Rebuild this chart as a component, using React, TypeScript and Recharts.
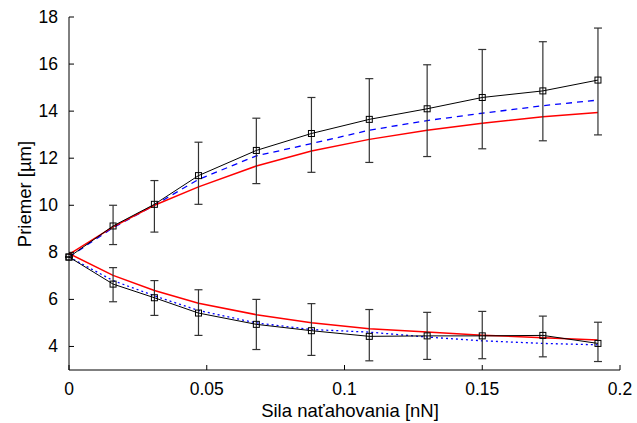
import { ComposedChart, Line, XAxis, YAxis, ErrorBar } from "recharts";

// force values [nN]
const force = [0, 0.016, 0.031, 0.047, 0.068, 0.088, 0.109, 0.13, 0.15, 0.172, 0.192];

// upper branch (measured, model dashed, model red)
const upperMeasured = [7.8, 9.12, 10.04, 11.26, 12.33, 13.05, 13.65, 14.1, 14.58, 14.86, 15.32];
const upperBarTop = [7.8, 10.0, 11.05, 12.68, 13.7, 14.58, 15.38, 15.97, 16.62, 16.95, 17.53];
const upperBarBottom = [7.8, 8.33, 8.86, 10.04, 10.92, 11.4, 11.82, 12.07, 12.4, 12.74, 12.99];
const upperBlue = [7.8, 9.05, 10.0, 11.1, 12.1, 12.62, 13.19, 13.6, 13.91, 14.23, 14.47];
const upperRed = [7.91, 9.08, 10.0, 10.78, 11.67, 12.31, 12.8, 13.19, 13.49, 13.76, 13.94];

// lower branch
const lowerMeasured = [7.8, 6.65, 6.07, 5.42, 4.94, 4.67, 4.43, 4.45, 4.45, 4.47, 4.13];
const lowerBarTop = [7.8, 7.35, 6.8, 6.41, 6.0, 5.82, 5.57, 5.45, 5.49, 5.29, 5.03];
const lowerBarBottom = [7.8, 5.9, 5.32, 4.47, 3.87, 3.62, 3.39, 3.45, 3.48, 3.56, 3.36];
const lowerBlue = [7.8, 6.8, 6.15, 5.53, 5.0, 4.72, 4.61, 4.4, 4.24, 4.13, 4.07];
const lowerRed = [7.95, 7.02, 6.38, 5.84, 5.35, 5.01, 4.75, 4.61, 4.48, 4.37, 4.27];

const xTicks = [0, 0.05, 0.1, 0.15, 0.2];
const yTicks = [4, 6, 8, 10, 12, 14, 16, 18];

const data = force.map((f, i) => ({
  f,
  up: upperMeasured[i],
  upErr: [upperMeasured[i] - upperBarBottom[i], upperBarTop[i] - upperMeasured[i]],
  upBlue: upperBlue[i],
  upRed: upperRed[i],
  lo: lowerMeasured[i],
  loErr: [lowerMeasured[i] - lowerBarBottom[i], lowerBarTop[i] - lowerMeasured[i]],
  loBlue: lowerBlue[i],
  loRed: lowerRed[i],
}));

const FONT = "'Liberation Sans', Arial, Helvetica, sans-serif";
const TICK = 5;

const Square = (props: any) => {
  const { cx, cy, index } = props;
  if (cx == null || cy == null) return <g key={index} />;
  return <rect key={index} x={cx - 3} y={cy - 3} width={6} height={6} fill="none" stroke="#000" strokeWidth={1} />;
};

const BottomTick = (props: any) => {
  const { x, y, payload } = props;
  return (
    <g>
      <line x1={x} y1={y} x2={x} y2={y - TICK} stroke="#000" />
      <text x={x} y={y + 25} textAnchor="middle" fontSize={17.5} fontFamily={FONT} fill="#000">
        {String(payload.value)}
      </text>
    </g>
  );
};

const LeftTick = (props: any) => {
  const { x, y, payload } = props;
  return (
    <g>
      <line x1={x} y1={y} x2={x + TICK} y2={y} stroke="#000" />
      <text x={x - 11} y={y + 6} textAnchor="end" fontSize={17.5} fontFamily={FONT} fill="#000">
        {String(payload.value)}
      </text>
    </g>
  );
};

const TopTick = (props: any) => {
  const { x, y } = props;
  return <line x1={x} y1={y} x2={x} y2={y + TICK} stroke="#000" />;
};

const RightTick = (props: any) => {
  const { x, y } = props;
  return <line x1={x} y1={y} x2={x - TICK} y2={y} stroke="#000" />;
};

export default function App() {
  return (
    <div style={{ position: "absolute", left: 0, top: 0, width: 637, height: 423, background: "#fff" }}>
      <ComposedChart width={637} height={423} data={data} margin={{ top: 17, right: 17, bottom: 0, left: 0 }}>
        <XAxis
          dataKey="f"
          type="number"
          domain={[0, 0.2]}
          ticks={xTicks}
          interval={0}
          tickSize={0}
          tickMargin={0}
          tick={<BottomTick />}
          axisLine={{ stroke: "#000" }}
          height={53}
          label={{
            content: () => (
              <text x={350} y={417} textAnchor="middle" fontSize={18.5} fontFamily={FONT} fill="#000">
                Sila naťahovania [nN]
              </text>
            ),
          }}
        />
        <XAxis
          xAxisId="top"
          orientation="top"
          dataKey="f"
          type="number"
          domain={[0, 0.2]}
          ticks={xTicks}
          interval={0}
          tickSize={0}
          tickMargin={0}
          tick={<TopTick />}
          axisLine={false}
          height={0}
        />
        <YAxis
          type="number"
          domain={[3, 18]}
          ticks={yTicks}
          interval={0}
          tickSize={0}
          tickMargin={0}
          tick={<LeftTick />}
          axisLine={{ stroke: "#000" }}
          width={69}
          allowDataOverflow
          label={{
            content: () => (
              <text transform="translate(31,194) rotate(-90)" textAnchor="middle" fontSize={18.5} fontFamily={FONT} fill="#000">
                Priemer [µm]
              </text>
            ),
          }}
        />
        <YAxis
          yAxisId="right"
          orientation="right"
          type="number"
          domain={[3, 18]}
          ticks={yTicks}
          interval={0}
          tickSize={0}
          tickMargin={0}
          tick={<RightTick />}
          axisLine={false}
          width={0}
          allowDataOverflow
        />
        <Line xAxisId="top" yAxisId="right" dataKey="up" stroke="none" dot={false} activeDot={false} isAnimationActive={false} />

        <Line dataKey="upBlue" type="linear" stroke="#0000ff" strokeWidth={1.3} strokeDasharray="6 5" dot={false} isAnimationActive={false} />
        <Line dataKey="loBlue" type="linear" stroke="#0000ff" strokeWidth={1.3} strokeDasharray="2 3" dot={false} isAnimationActive={false} />
        <Line dataKey="upRed" type="linear" stroke="#ff0000" strokeWidth={1.5} dot={false} isAnimationActive={false} />
        <Line dataKey="loRed" type="linear" stroke="#ff0000" strokeWidth={1.5} dot={false} isAnimationActive={false} />

        <Line dataKey="up" type="linear" stroke="#000" strokeWidth={1} dot={<Square />} activeDot={false} isAnimationActive={false}>
          <ErrorBar dataKey="upErr" direction="y" width={4} stroke="#333" strokeWidth={1.2} />
        </Line>
        <Line dataKey="lo" type="linear" stroke="#000" strokeWidth={1} dot={<Square />} activeDot={false} isAnimationActive={false}>
          <ErrorBar dataKey="loErr" direction="y" width={4} stroke="#333" strokeWidth={1.2} />
        </Line>
      </ComposedChart>
    </div>
  );
}
